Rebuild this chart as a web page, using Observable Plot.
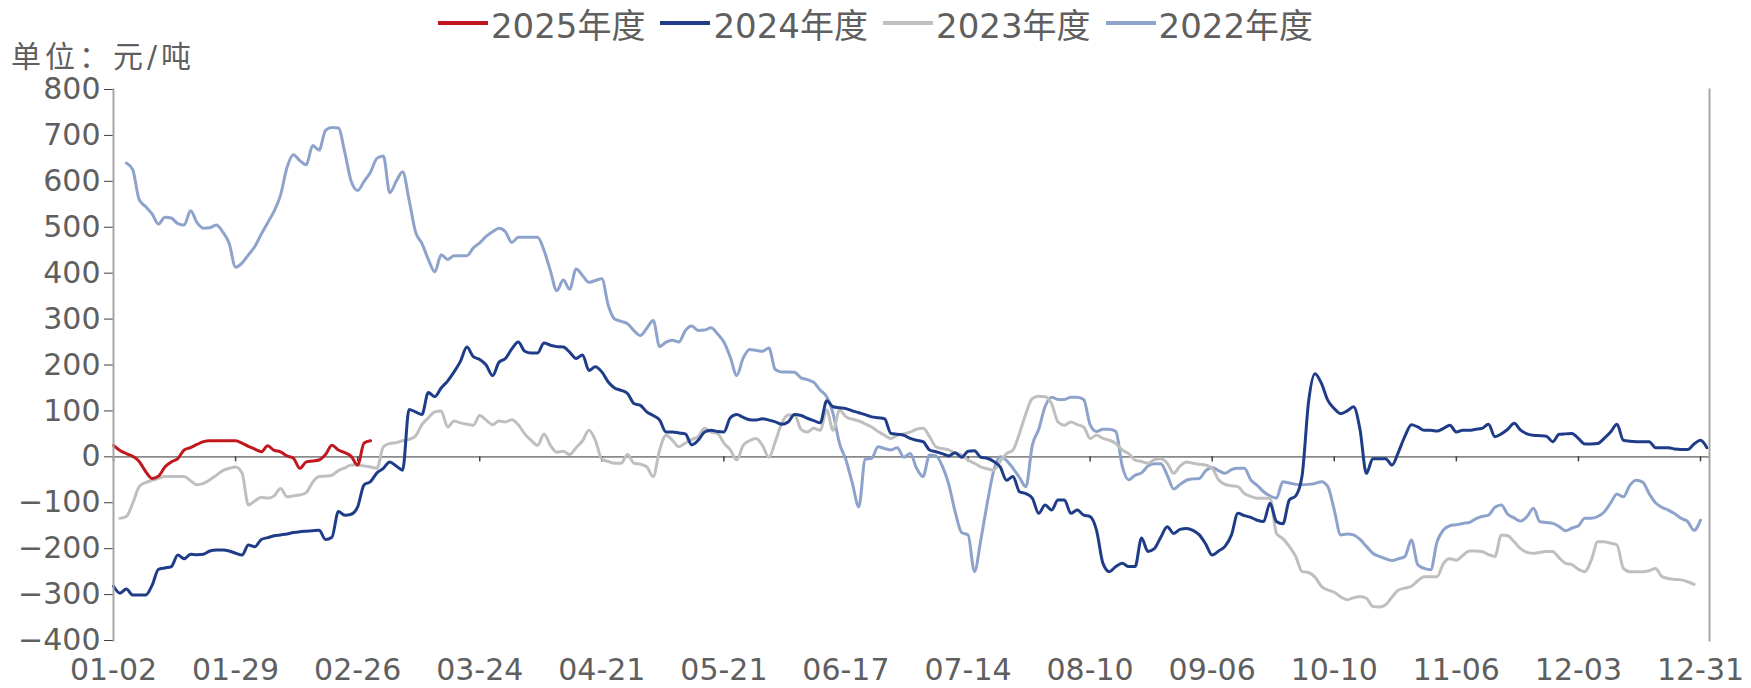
<!DOCTYPE html>
<html>
<head>
<meta charset="utf-8">
<script src="https://cdn.jsdelivr.net/npm/d3@7"></script>
<script src="https://cdn.jsdelivr.net/npm/@observablehq/plot@0.6"></script>
<style>
  html, body { margin: 0; padding: 0; background: #fff; }
  #wrap { position: relative; width: 1751px; height: 688px; overflow: hidden; font-family: "DejaVu Sans", "Noto Sans CJK SC", sans-serif; color: #5f5f5f; }
  #legend { height: 46px; display: flex; justify-content: center; align-items: center; gap: 15px; font-size: 34px; padding-left: 0px; }
  .item { display: flex; align-items: center; gap: 3px; }
  .swatch { width: 50px; height: 3.5px; }
  #unit { position: absolute; left: 11px; top: 43px; font-size: 30px; line-height: 27px; letter-spacing: 4px; }
  #chart { position: absolute; left: 0; top: 44px; }
</style>
</head>
<body>
<div id="wrap">
  <div id="legend"></div>
  <div id="chart"></div>
  <div id="unit">单位：元/吨</div>
</div>
<script>
// x tick labels (every 19 trading days)
const tickLabels = ["01-02","01-29","02-26","03-24","04-21","05-21","06-17","07-14","08-10","09-06","10-10","11-06","12-03","12-31"];
const tickStep = 19;
const seriesNames = ["2025年度","2024年度","2023年度","2022年度"];
const seriesColors = ["#C0181D","#1F3C88","#BFBFBF","#8EA3CB"];

// [trading-day index, value]
const s2025 = [[0,25],[1,14],[2,7],[3,1],[4,-10],[5,-32],[6,-47],[7,-42],[8,-22],[9,-11],[10,-4],[11,15],[12,20],[13,27],[14,33],[15,35],[16,35],[17,35],[18,35],[19,35],[20,30],[21,23],[22,17],[23,11],[24,24],[25,14],[26,11],[27,2],[28,-3],[29,-25],[30,-11],[31,-9],[32,-7],[33,5],[34,25],[35,15],[36,9],[37,1],[38,-18],[39,30],[40,35]];

const s2024 = [[0,-282],[1,-297],[2,-288],[3,-301],[4,-301],[5,-301],[6,-280],[7,-245],[8,-242],[9,-239],[10,-214],[11,-222],[12,-212],[13,-213],[14,-212],[15,-205],[16,-203],[17,-203],[18,-205],[19,-210],[20,-214],[21,-192],[22,-196],[23,-180],[24,-176],[25,-172],[26,-170],[27,-168],[28,-165],[29,-163],[30,-162],[31,-161],[32,-160],[33,-180],[34,-175],[35,-119],[36,-127],[37,-125],[38,-109],[39,-61],[40,-54],[41,-35],[42,-25],[43,-11],[44,-20],[45,-29],[46,103],[47,98],[48,92],[49,140],[50,131],[51,150],[52,165],[53,185],[54,208],[55,239],[56,218],[57,212],[58,200],[59,177],[60,206],[61,214],[62,235],[63,250],[64,230],[65,226],[66,226],[67,248],[68,243],[69,240],[70,239],[71,228],[72,214],[73,222],[74,188],[75,196],[76,185],[77,163],[78,150],[79,145],[80,138],[81,116],[82,112],[83,98],[84,90],[85,80],[86,54],[87,54],[88,52],[89,50],[90,26],[91,36],[92,54],[93,58],[94,55],[95,54],[96,85],[97,92],[98,86],[99,81],[100,80],[101,83],[102,80],[103,76],[104,71],[105,76],[106,92],[107,90],[108,84],[109,79],[110,74],[111,122],[112,109],[113,107],[114,105],[115,100],[116,96],[117,92],[118,87],[119,85],[120,83],[121,51],[122,49],[123,47],[124,40],[125,36],[126,33],[127,15],[128,11],[129,7],[130,2],[131,9],[132,-1],[133,12],[134,13],[135,-1],[136,-3],[137,-10],[138,-22],[139,-51],[140,-43],[141,-76],[142,-80],[143,-90],[144,-123],[145,-105],[146,-116],[147,-94],[148,-94],[149,-123],[150,-116],[151,-127],[152,-130],[153,-160],[154,-232],[155,-250],[156,-239],[157,-232],[158,-239],[159,-239],[160,-177],[161,-206],[162,-200],[163,-175],[164,-152],[165,-167],[166,-158],[167,-156],[168,-160],[169,-170],[170,-190],[171,-214],[172,-205],[173,-195],[174,-170],[175,-123],[176,-128],[177,-132],[178,-138],[179,-141],[180,-101],[181,-141],[182,-146],[183,-94],[184,-85],[185,-40],[186,120],[187,181],[188,160],[189,123],[190,105],[191,94],[192,100],[193,109],[194,60],[195,-36],[196,-4],[197,-4],[198,-4],[199,-18],[200,11],[201,45],[202,70],[203,65],[204,58],[205,58],[206,56],[207,62],[208,69],[209,54],[210,58],[211,58],[212,60],[213,62],[214,71],[215,44],[216,50],[217,60],[218,73],[219,58],[220,50],[221,47],[222,46],[223,45],[224,33],[225,49],[226,50],[227,51],[228,40],[229,28],[230,28],[231,29],[232,40],[233,54],[234,71],[235,36],[236,34],[237,33],[238,33],[239,33],[240,20],[241,20],[242,20],[243,17],[244,16],[245,16],[246,28],[247,36],[248,20]];

const s2023 = [[1,-134],[2,-130],[3,-101],[4,-65],[5,-56],[6,-51],[7,-47],[8,-43],[9,-43],[10,-43],[11,-43],[12,-52],[13,-61],[14,-58],[15,-50],[16,-40],[17,-30],[18,-25],[19,-22],[20,-35],[21,-105],[22,-96],[23,-88],[24,-90],[25,-85],[26,-69],[27,-87],[28,-85],[29,-83],[30,-78],[31,-55],[32,-43],[33,-42],[34,-40],[35,-30],[36,-24],[37,-18],[38,-18],[39,-20],[40,-22],[41,-25],[42,22],[43,29],[44,31],[45,35],[46,38],[47,45],[48,70],[49,85],[50,98],[51,100],[52,65],[53,78],[54,74],[55,71],[56,69],[57,90],[58,80],[59,70],[60,78],[61,76],[62,81],[63,70],[64,50],[65,36],[66,25],[67,50],[68,25],[69,10],[70,12],[71,5],[72,20],[73,35],[74,58],[75,36],[76,-5],[77,-10],[78,-14],[79,-14],[80,5],[81,-14],[82,-16],[83,-22],[84,-43],[85,15],[86,47],[87,36],[88,22],[89,30],[90,38],[91,44],[92,62],[93,54],[94,51],[95,30],[96,15],[97,-7],[98,25],[99,35],[100,40],[101,25],[102,-1],[103,33],[104,73],[105,91],[106,91],[107,60],[108,54],[109,62],[110,58],[111,102],[112,58],[113,102],[114,87],[115,82],[116,78],[117,72],[118,65],[119,55],[120,47],[121,40],[122,47],[123,50],[124,54],[125,60],[126,62],[127,44],[128,22],[129,18],[130,15],[131,8],[132,4],[133,-7],[134,-14],[135,-22],[136,-26],[137,-29],[138,-10],[139,7],[140,15],[141,51],[142,94],[143,127],[144,132],[145,131],[146,116],[147,76],[148,69],[149,76],[150,70],[151,65],[152,40],[153,47],[154,40],[155,36],[156,29],[157,15],[158,7],[159,-7],[160,-10],[161,-14],[162,-6],[163,-4],[164,-14],[165,-36],[166,-20],[167,-11],[168,-14],[169,-16],[170,-18],[171,-25],[172,-50],[173,-60],[174,-63],[175,-65],[176,-80],[177,-86],[178,-90],[179,-90],[180,-90],[181,-167],[182,-178],[183,-195],[184,-217],[185,-250],[186,-252],[187,-262],[188,-282],[189,-290],[190,-295],[191,-305],[192,-311],[193,-307],[194,-304],[195,-308],[196,-326],[197,-327],[198,-322],[199,-305],[200,-290],[201,-286],[202,-282],[203,-270],[204,-261],[205,-261],[206,-261],[207,-232],[208,-222],[209,-225],[210,-215],[211,-205],[212,-205],[213,-206],[214,-213],[215,-217],[216,-170],[217,-172],[218,-185],[219,-200],[220,-208],[221,-210],[222,-208],[223,-206],[224,-206],[225,-220],[226,-232],[227,-235],[228,-245],[229,-250],[230,-225],[231,-185],[232,-185],[233,-188],[234,-192],[235,-243],[236,-250],[237,-250],[238,-250],[239,-248],[240,-243],[241,-261],[242,-265],[243,-267],[244,-268],[245,-272],[246,-278]];

const s2022 = [[2,640],[3,625],[4,560],[5,545],[6,529],[7,507],[8,522],[9,520],[10,508],[11,505],[12,536],[13,510],[14,498],[15,499],[16,505],[17,490],[18,465],[19,413],[20,422],[21,440],[22,458],[23,485],[24,510],[25,535],[26,570],[27,630],[28,658],[29,645],[30,636],[31,678],[32,668],[33,711],[34,717],[35,716],[36,663],[37,600],[38,580],[39,600],[40,620],[41,650],[42,655],[43,575],[44,600],[45,621],[46,560],[47,490],[48,465],[49,430],[50,403],[51,440],[52,430],[53,438],[54,438],[55,438],[56,455],[57,466],[58,480],[59,490],[60,498],[61,490],[62,467],[63,478],[64,478],[65,478],[66,478],[67,450],[68,405],[69,362],[70,385],[71,365],[72,409],[73,395],[74,380],[75,384],[76,388],[77,330],[78,300],[79,295],[80,290],[81,275],[82,264],[83,280],[84,297],[85,240],[86,250],[87,254],[88,250],[89,275],[90,285],[91,275],[92,276],[93,281],[94,268],[95,250],[96,217],[97,177],[98,215],[99,234],[100,232],[101,230],[102,237],[103,190],[104,185],[105,185],[106,184],[107,172],[108,168],[109,162],[110,145],[111,131],[112,94],[113,29],[114,-7],[115,-58],[116,-109],[117,-5],[118,-3],[119,22],[120,18],[121,15],[122,20],[123,-1],[124,7],[125,-25],[126,-43],[127,4],[128,2],[129,-20],[130,-60],[131,-120],[132,-165],[133,-170],[134,-250],[135,-180],[136,-100],[137,-30],[138,0],[139,-8],[140,-25],[141,-45],[142,-65],[143,25],[144,60],[145,110],[146,130],[147,125],[148,125],[149,130],[150,130],[151,125],[152,70],[153,55],[154,60],[155,60],[156,55],[157,-20],[158,-50],[159,-40],[160,-35],[161,-20],[162,-15],[163,-15],[164,-40],[165,-70],[166,-60],[167,-51],[168,-48],[169,-47],[170,-30],[171,-23],[172,-30],[173,-36],[174,-28],[175,-25],[176,-25],[177,-50],[178,-62],[179,-76],[180,-85],[181,-90],[182,-54],[183,-57],[184,-60],[185,-61],[186,-60],[187,-58],[188,-54],[189,-65],[190,-116],[191,-170],[192,-168],[193,-170],[194,-180],[195,-195],[196,-210],[197,-217],[198,-222],[199,-226],[200,-222],[201,-217],[202,-181],[203,-235],[204,-243],[205,-246],[206,-185],[207,-159],[208,-150],[209,-148],[210,-145],[211,-143],[212,-135],[213,-130],[214,-127],[215,-110],[216,-105],[217,-125],[218,-133],[219,-140],[220,-130],[221,-112],[222,-141],[223,-143],[224,-145],[225,-152],[226,-161],[227,-155],[228,-150],[229,-134],[230,-134],[231,-130],[232,-120],[233,-101],[234,-81],[235,-87],[236,-62],[237,-51],[238,-55],[239,-80],[240,-100],[241,-110],[242,-116],[243,-124],[244,-134],[245,-141],[246,-160],[247,-138]];

const yTicks = [-400,-300,-200,-100,0,100,200,300,400,500,600,700,800];

const seriesData = [s2025, s2024, s2023, s2022];
const rows = [];
// draw order: 2022 (bottom) ... 2025 (top)
[3,2,1,0].forEach(k => {
  seriesData[k].forEach(([d, v]) => rows.push({day: d, value: v, series: seriesNames[k]}));
});
const xTicks = tickLabels.map((_, i) => i * tickStep);

// legend
const legend = document.getElementById("legend");
seriesNames.forEach((n, i) => {
  const it = document.createElement("div");
  it.className = "item";
  it.innerHTML = `<span class="swatch" style="background:${seriesColors[i]}"></span><span>${n}</span>`;
  legend.appendChild(it);
});

const fmt = v => (v < 0 ? "\u2212" + Math.abs(v) : String(v));

const chart = Plot.plot({
  width: 1751,
  height: 644,
  marginLeft: 113,
  marginRight: 42,
  marginTop: 45,
  marginBottom: 48,
  style: {fontFamily: "'DejaVu Sans', 'Noto Sans CJK SC', sans-serif", fontSize: "30px", color: "#5f5f5f", overflow: "visible", background: "transparent"},
  x: {domain: [0, 248.4]},
  y: {domain: [-400, 800]},
  color: {domain: seriesNames, range: seriesColors},
  marks: [
    Plot.ruleY([0], {stroke: "#8a8a8a", strokeWidth: 1.6}),
    Plot.ruleX(xTicks, {y1: 0, y2: -11, stroke: "#404040", strokeWidth: 1.5}),
    Plot.lineY(rows, {x: "day", y: "value", z: "series", stroke: "series", strokeWidth: 3, curve: "monotone-x"}),
    Plot.axisY({ticks: yTicks, tickFormat: fmt, tickSize: 9, tickPadding: 4, stroke: "#404040", label: null, fontSize: 30, fill: "#5f5f5f"}),
    Plot.axisX({ticks: xTicks, tickFormat: d => tickLabels[Math.round(d / tickStep)], tickSize: 0, tickPadding: 18, label: null, fontSize: 30, fill: "#5f5f5f"}),
    Plot.frame({anchor: "left", stroke: "#a6a6a6", strokeWidth: 2}),
    Plot.frame({anchor: "right", stroke: "#a6a6a6", strokeWidth: 2})
  ]
});
document.getElementById("chart").appendChild(chart);
</script>
</body>
</html>
